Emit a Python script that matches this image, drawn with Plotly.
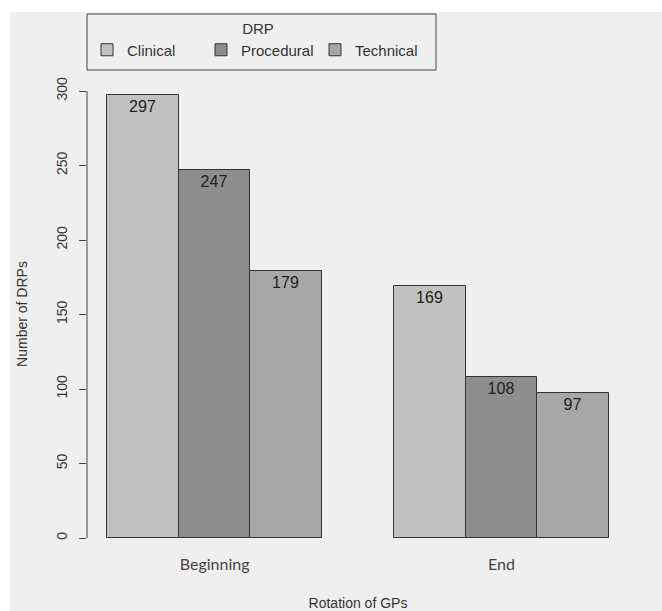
import plotly.graph_objects as go

rotations = ["Beginning", "End"]
drp_types = ["Clinical", "Procedural", "Technical"]
clinical = [297, 169]
procedural = [247, 108]
technical = [179, 97]
y_ticks = [0, 50, 100, 150, 200, 250, 300]

series = [clinical, procedural, technical]
colors = ["#c1c1c1", "#8d8d8d", "#a7a7a7"]

# R barplot beside=TRUE positions: each group preceded by one bar-width gap
n = len(drp_types)
group_centers = []
fig = go.Figure()
for j, (name, vals, col) in enumerate(zip(drp_types, series, colors)):
    xs = []
    for g in range(len(rotations)):
        start = 1 + g * (n + 1)
        xs.append(start + j + 0.5)
    fig.add_trace(go.Bar(
        x=xs, y=vals, name=name, width=1.0,
        marker=dict(color=col, line=dict(color="#333333", width=1)),
        text=[str(v) for v in vals], textposition="inside", insidetextanchor="end",
        textangle=0, textfont=dict(family="Liberation Sans, Arial", size=16, color="#222222"),
        hoverinfo="skip",
    ))
for g in range(len(rotations)):
    start = 1 + g * (n + 1)
    group_centers.append(start + n / 2)

W, H = 662, 611
L, R = 87, 629
T, B = 75, 553
pw, ph = R - L, B - T
ppu = 1.49  # pixels per y unit

def px(x):
    return (x - L) / pw

def py(y):
    return (B - y) / ph

shapes = [
    dict(type="rect", xref="paper", yref="paper", x0=px(10), x1=px(662), y0=py(611), y1=py(12),
         fillcolor="#efefef", line=dict(width=0), layer="below"),
    dict(type="line", xref="paper", yref="y", x0=0, x1=0, y0=y_ticks[0], y1=y_ticks[-1],
         line=dict(color="#444444", width=1)),
    dict(type="rect", xref="paper", yref="paper", x0=px(87), x1=px(436), y0=py(70), y1=py(14),
         line=dict(color="#444444", width=1), fillcolor="rgba(0,0,0,0)"),
]

fig.update_layout(
    width=W, height=H,
    margin=dict(l=L, r=W - R, t=T, b=H - B, autoexpand=False),
    paper_bgcolor="white", plot_bgcolor="rgba(0,0,0,0)",
    barmode="overlay", bargap=0,
    font=dict(family="Liberation Sans, Arial", size=14, color="#333333"),
    shapes=shapes,
    showlegend=True,
    legend=dict(
        orientation="h", x=px(87), xanchor="left", y=py(14), yanchor="top",
        title=dict(text="DRP", side="top center", font=dict(size=15)),
        font=dict(size=15, color="#333333"),
        bgcolor="rgba(0,0,0,0)", borderwidth=0,
        entrywidth=69, entrywidthmode="pixels",
        traceorder="normal",
    ),
    xaxis=dict(
        range=[0.72, 8.28], showgrid=False, zeroline=False, showline=False,
        tickvals=group_centers, ticktext=rotations, ticks="",
        tickfont=dict(family="Lato, Open Sans", size=16, color="#444444"),
        ticklabelstandoff=0,
        title=dict(text="Rotation of GPs", standoff=26,
                   font=dict(family="Liberation Sans, Arial", size=14, color="#333333")),
    ),
    yaxis=dict(
        range=[(538 - B) / ppu, 300 + (91 - T) / ppu],
        showgrid=False, zeroline=False, showline=False,
        tickvals=y_ticks, ticks="outside", ticklen=7, tickcolor="#444444",
        tickangle=-90, ticklabelstandoff=6,
        tickfont=dict(family="Liberation Sans, Arial", size=14, color="#333333"),
        title=dict(text="Number of DRPs", standoff=23,
                   font=dict(family="Liberation Sans, Arial", size=14, color="#333333")),
    ),
)

fig.write_html("out.html", config={"displayModeBar": False},
               post_script="document.body.style.margin='0';")
